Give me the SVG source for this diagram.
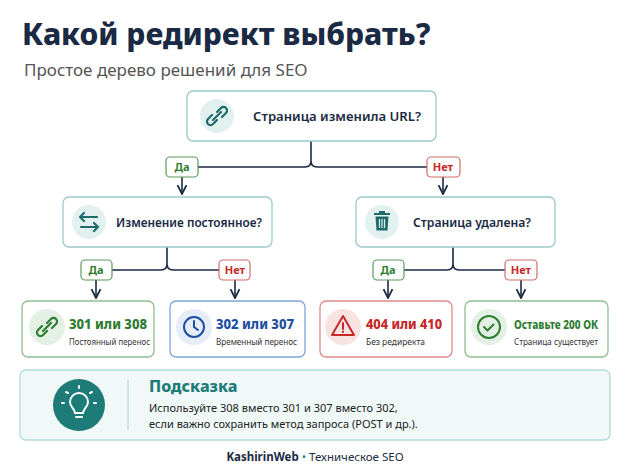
<svg xmlns="http://www.w3.org/2000/svg" width="630" height="473" viewBox="0 0 630 473">
<style>
text{font-family:"Noto Sans","Liberation Sans",sans-serif}
.q{fill:#fff;stroke:#9cc9cc;stroke-width:1.3}
.qt{font-size:13px;font-weight:600;fill:#1b2a44}
.ic{fill:#e2f0f0}
.tl{fill:none;stroke:#1e6b6b;stroke-width:2.2;stroke-linecap:round;stroke-linejoin:round}
.ln{fill:none;stroke:#1b2a44;stroke-width:1.6}
.yes{fill:#fff;stroke:#5c9a5c;stroke-width:1.2}
.no{fill:#fff;stroke:#d26a6a;stroke-width:1.2}
.yt{font-size:11px;font-weight:700;fill:#2e7d32;text-anchor:middle}
.nt{font-size:11px;font-weight:700;fill:#c62828;text-anchor:middle}
.sub{font-size:8.5px;fill:#333}
.h{font-size:14.5px;font-weight:800}
</style>
<defs><marker id="a" viewBox="0 0 10 10" refX="9" refY="5" markerWidth="7" markerHeight="7" orient="auto"><path d="M1 1L9 5L1 9" fill="none" stroke="#1b2a44" stroke-width="1.6"/></marker></defs>
<rect width="630" height="473" fill="#fff"/>
<text x="22" y="45" font-size="30" font-weight="800" fill="#1b2a44">Какой редирект выбрать?</text>
<text x="24" y="76" font-size="17" fill="#555">Простое дерево решений для SEO</text>

<g id="connectors">
<path class="ln" d="M311 141V161Q311 167 305 167H198M311 161Q311 167 317 167H427"/>
<path class="ln" d="M182 177V194" marker-end="url(#a)"/>
<path class="ln" d="M443 177V194" marker-end="url(#a)"/>
<path class="ln" d="M167 247V264Q167 270 161 270H112M167 264Q167 270 173 270H219"/>
<path class="ln" d="M96 280V298" marker-end="url(#a)"/>
<path class="ln" d="M235 280V298" marker-end="url(#a)"/>
<path class="ln" d="M453 247V264Q453 270 447 270H404M453 264Q453 270 459 270H505"/>
<path class="ln" d="M388 280V298" marker-end="url(#a)"/>
<path class="ln" d="M521 280V298" marker-end="url(#a)"/>
<rect class="yes" x="166" y="157" width="32" height="20" rx="4"/><text class="yt" x="182" y="171">Да</text>
<rect class="no" x="427" y="157" width="33" height="20" rx="4"/><text class="nt" x="443" y="171">Нет</text>
<rect class="yes" x="81" y="260" width="31" height="20" rx="4"/><text class="yt" x="96" y="274">Да</text>
<rect class="no" x="219" y="260" width="31" height="20" rx="4"/><text class="nt" x="235" y="274">Нет</text>
<rect class="yes" x="373" y="260" width="31" height="20" rx="4"/><text class="yt" x="388" y="274">Да</text>
<rect class="no" x="505" y="260" width="32" height="20" rx="4"/><text class="nt" x="521" y="274">Нет</text>
</g>

<g id="n1">
<rect class="q" x="187" y="91" width="249" height="50" rx="6"/>
<circle class="ic" cx="217" cy="116" r="17"/>
<g class="tl"><path d="M213 120l8-8"/><path d="M212 115l-4 4a3.5 3.5 0 0 0 5 5l4-4"/><path d="M222 117l4-4a3.5 3.5 0 0 0-5-5l-4 4"/></g>
<text class="qt" x="253" y="121" textLength="168" lengthAdjust="spacingAndGlyphs">Страница изменила URL?</text>
</g>
<g id="n2">
<rect class="q" x="63" y="197" width="209" height="50" rx="6"/>
<circle class="ic" cx="89" cy="222" r="17"/>
<g class="tl"><path d="M80 217h17M84 213l-4 4 4 4"/><path d="M98 227h-17M94 223l4 4-4 4"/></g>
<text class="qt" x="116" y="227" textLength="146" lengthAdjust="spacingAndGlyphs">Изменение постоянное?</text>
</g>
<g id="n3">
<rect class="q" x="356" y="197" width="199" height="50" rx="6"/>
<circle class="ic" cx="382" cy="222" r="17"/>
<g fill="#1e6b6b"><rect x="374" y="213" width="16" height="2"/><rect x="379" y="211" width="6" height="2"/><path d="M375.5 216.5h13l-1 14h-11z"/></g>
<g stroke="#e2f0f0" stroke-width="1.2"><path d="M379.5 219v9M382 219v9M384.5 219v9"/></g>
<text class="qt" x="413" y="227" textLength="118" lengthAdjust="spacingAndGlyphs">Страница удалена?</text>
</g>

<g id="r1">
<rect x="22" y="301" width="132" height="56" rx="6" fill="#fff" stroke="#8fbf8f" stroke-width="1.3"/>
<circle cx="47" cy="327" r="18" fill="#e3f0e3"/>
<g class="tl" style="stroke:#2e7d32"><path d="M43 331l8-8"/><path d="M42 326l-4 4a3.5 3.5 0 0 0 5 5l4-4"/><path d="M52 328l4-4a3.5 3.5 0 0 0-5-5l-4 4"/></g>
<text class="h" x="69" y="329" fill="#2e7d32" textLength="78" lengthAdjust="spacingAndGlyphs">301 или 308</text>
<text class="sub" x="69" y="345" textLength="81" lengthAdjust="spacingAndGlyphs">Постоянный перенос</text>
</g>
<g id="r2">
<rect x="170" y="301" width="135" height="56" rx="6" fill="#fff" stroke="#7fa6d9" stroke-width="1.3"/>
<circle cx="194" cy="327" r="18" fill="#e5eef8"/>
<circle cx="194" cy="327" r="10" fill="none" stroke="#1f4fa0" stroke-width="2"/>
<path d="M194 321v6l4 3" fill="none" stroke="#1f4fa0" stroke-width="2" stroke-linecap="round"/>
<text class="h" x="216" y="329" fill="#1f4fa0" textLength="78" lengthAdjust="spacingAndGlyphs">302 или 307</text>
<text class="sub" x="216" y="345" textLength="81" lengthAdjust="spacingAndGlyphs">Временный перенос</text>
</g>
<g id="r3">
<rect x="320" y="301" width="132" height="56" rx="6" fill="#fff" stroke="#e08a8a" stroke-width="1.3"/>
<circle cx="343" cy="327" r="18" fill="#f8e3e3"/>
<path d="M343 316l11 19h-22z" fill="none" stroke="#c62828" stroke-width="2" stroke-linejoin="round"/>
<path d="M343 323v6M343 331.5v.5" stroke="#c62828" stroke-width="2" stroke-linecap="round"/>
<text class="h" x="366" y="329" fill="#c62828" textLength="76" lengthAdjust="spacingAndGlyphs">404 или 410</text>
<text class="sub" x="366" y="345" font-size="9" textLength="59" lengthAdjust="spacingAndGlyphs">Без редиректа</text>
</g>
<g id="r4">
<rect x="465" y="301" width="143" height="56" rx="6" fill="#fff" stroke="#8fbf8f" stroke-width="1.3"/>
<circle cx="489" cy="327" r="18" fill="#e3f0e3"/>
<circle cx="489" cy="327" r="11" fill="none" stroke="#2e7d32" stroke-width="2"/>
<path d="M484 327l3.5 3.5 6-6" fill="none" stroke="#2e7d32" stroke-width="2" stroke-linecap="round" stroke-linejoin="round"/>
<text x="514" y="329" font-size="13" font-weight="800" fill="#2e7d32" textLength="84" lengthAdjust="spacingAndGlyphs">Оставьте 200 ОК</text>
<text class="sub" x="514" y="345" textLength="84" lengthAdjust="spacingAndGlyphs">Страница существует</text>
</g>

<g id="hint">
<rect x="20" y="370" width="590" height="70" rx="6" fill="#f1f8f8" stroke="#b6d8d8" stroke-width="1.3"/>
<circle cx="79" cy="405" r="26" fill="#1e7c78"/>
<g fill="none" stroke="#fff" stroke-width="2" stroke-linecap="round"><path d="M75 413c0-4-5-6-5-11a9 9 0 0 1 18 0c0 5-5 7-5 11z"/><path d="M76 417h6"/><path d="M79 386v2M66 392l2 1M92 392l-2 1M62 403h2M94 403h2"/></g>
<line x1="128" y1="380" x2="128" y2="430" stroke="#b6d8d8" stroke-width="1.3"/>
<text x="149" y="392" font-size="16" font-weight="800" fill="#1e7c78">Подсказка</text>
<text x="149" y="412" font-size="11" fill="#222">Используйте 308 вместо 301 и 307 вместо 302,</text>
<text x="149" y="428" font-size="11" fill="#222">если важно сохранить метод запроса (POST и др.).</text>
</g>
<text x="315" y="461" font-size="11.5" text-anchor="middle" fill="#1b2a44"><tspan font-weight="700">KashirinWeb</tspan>  <tspan fill="#1e7c78">•</tspan>  Техническое SEO</text>
</svg>
